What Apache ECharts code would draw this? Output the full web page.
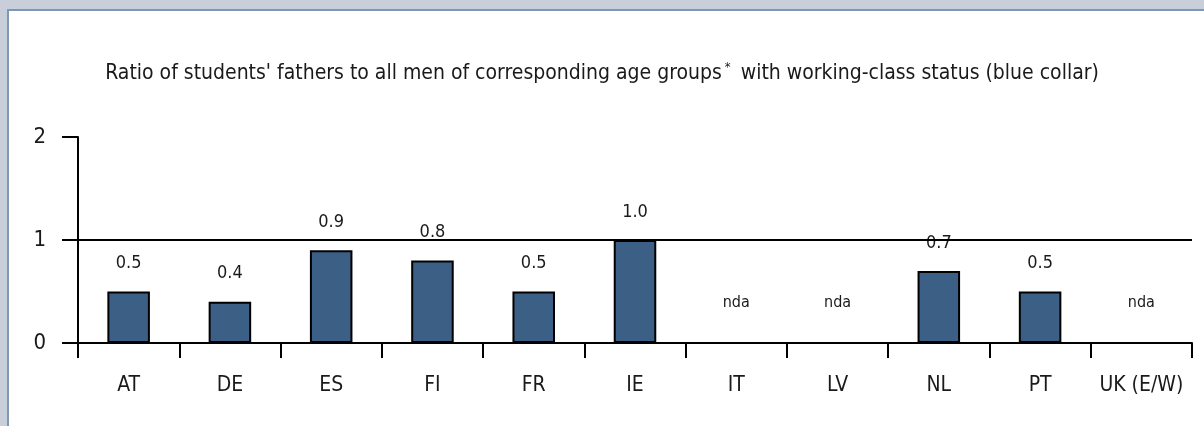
<!DOCTYPE html>
<html>
<head>
<meta charset="utf-8">
<script src="https://cdn.jsdelivr.net/npm/echarts@6/dist/echarts.min.js"></script>
<style>
html,body{margin:0;padding:0;background:#c9cedb;}
#c{width:1204px;height:426px;}
</style>
</head>
<body>
<div id="c"></div>
<script>
const categories = ['AT','DE','ES','FI','FR','IE','IT','LV','NL','PT','UK (E/W)'];
const ratios = [0.5, 0.4, 0.9, 0.8, 0.5, 1.0, null, null, 0.7, 0.5, null];
const yTicks = [0, 1, 2];
const refLine = 1;

const FONT = '"Liberation Sans Narrow","DejaVu Sans Condensed","Roboto Condensed",sans-serif';

const chart = echarts.init(document.getElementById('c'), null, {renderer:'canvas'});

const barData = ratios.map(v => {
  if (v === null) {
    return {
      value: 0,
      itemStyle: {color: 'rgba(0,0,0,0)', borderColor: 'rgba(0,0,0,0)'},
      label: {show: true, formatter: 'nda', distance: 31, fontSize: 16}
    };
  }
  return {value: v};
});

chart.setOption({
  animation: false,
  backgroundColor: '#c9cedb',
  graphic: [{
    type: 'rect',
    z: -10,
    shape: {x: 8, y: 10, width: 1220, height: 440},
    style: {fill: '#ffffff', stroke: '#7d97b6', lineWidth: 2}
  }],
  title: {
    left: 'center',
    top: 56,
    text: '{a|Ratio of students\' fathers to all men of corresponding age groups}{s|*}{a| with working-class status (blue collar)}',
    textStyle: {
      fontWeight: 'normal',
      rich: {
        a: {fontFamily: FONT, fontSize: 21, fontWeight: 'normal', color: '#1a1a1a'},
        s: {fontFamily: FONT, fontSize: 13, fontWeight: 'normal', color: '#1a1a1a', verticalAlign: 'top', padding: [0, 4, 12, 3]}
      }
    }
  },
  grid: {left: 78, right: 12, top: 137, bottom: 83, containLabel: false},
  xAxis: {
    type: 'category',
    data: categories,
    axisLine: {lineStyle: {color: '#000', width: 2}},
    axisTick: {show: true, length: 15, interval: 0, lineStyle: {color: '#000', width: 2}},
    axisLabel: {interval: 0, margin: 32, fontFamily: FONT, fontSize: 21, color: '#1a1a1a'},
    splitLine: {show: false}
  },
  yAxis: {
    type: 'value',
    min: yTicks[0],
    max: yTicks[yTicks.length - 1],
    interval: 1,
    axisLine: {show: true, lineStyle: {color: '#000', width: 2}},
    axisTick: {show: true, length: 16, lineStyle: {color: '#000', width: 2}},
    axisLabel: {margin: 32, fontFamily: FONT, fontSize: 22, color: '#1a1a1a'},
    splitLine: {show: false}
  },
  series: [{
    type: 'bar',
    data: barData,
    barWidth: '42%',
    itemStyle: {color: '#3b5f85', borderColor: '#000', borderWidth: 2},
    label: {
      show: true,
      position: 'top',
      distance: 19,
      fontFamily: FONT,
      fontSize: 18,
      color: '#1a1a1a',
      formatter: p => p.value.toFixed(1)
    },
    markLine: {
      silent: true,
      symbol: 'none',
      label: {show: false},
      lineStyle: {color: '#000', width: 2, type: 'solid'},
      data: [{yAxis: refLine}]
    }
  }]
});
</script>
</body>
</html>
